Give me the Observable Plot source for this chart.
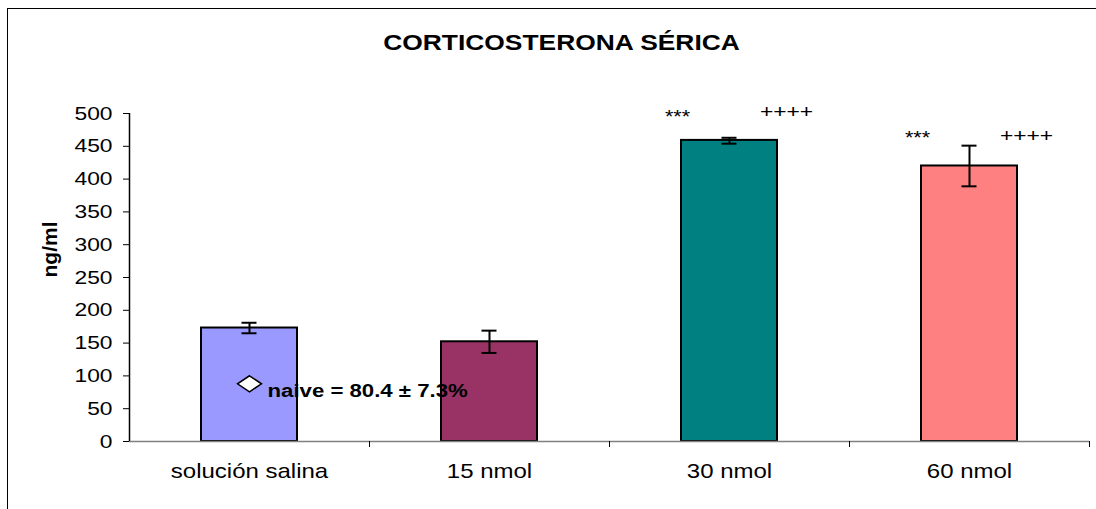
<!DOCTYPE html>
<html>
<head>
<meta charset="utf-8">
<script src="https://cdn.jsdelivr.net/npm/d3@7"></script>
<script src="https://cdn.jsdelivr.net/npm/@observablehq/plot@0.6"></script>
<style>
  html, body { margin: 0; padding: 0; background: #fff; }
  #wrap { position: relative; width: 1096px; height: 509px; overflow: hidden; }
  #frame { position: absolute; left: 7px; top: 8px; width: 1200px; height: 600px; border-left: 1.5px solid #000; border-top: 1.5px solid #000; pointer-events: none; }
  svg { font-family: "Liberation Sans", Arial, sans-serif; }
</style>
</head>
<body>
<div id="wrap"><div id="frame"></div></div>
<script>
const categories = ["solución salina", "15 nmol", "30 nmol", "60 nmol"];
const means = [173, 152, 459, 420];
const errLow = [165, 135, 454, 389];
const errHigh = [181, 169, 463, 451];
const colors = ["#9999FF", "#993366", "#008080", "#FF8080"];
const yTicks = [0, 50, 100, 150, 200, 250, 300, 350, 400, 450, 500];
const title = "CORTICOSTERONA SÉRICA";
const yLabel = "ng/ml";
const stars = [{cat: "30 nmol", y: 494, t: "***"}, {cat: "60 nmol", y: 462, t: "***"}];
const pluses = [{cat: "30 nmol", y: 502, t: "++++"}, {cat: "60 nmol", y: 466, t: "++++"}];
const naive = [{cat: "solución salina", y: 88, t: "naive = 80.4 ± 7.3%"}];

const bars = categories.map((c, i) => ({cat: c, v: means[i], lo: errLow[i], hi: errHigh[i], color: colors[i]}));

const wideDiamond = {
  draw(ctx, size) {
    const w = 12, h = 8;
    ctx.moveTo(0, -h); ctx.lineTo(w, 0); ctx.lineTo(0, h); ctx.lineTo(-w, 0); ctx.closePath();
  }
};

const chart = Plot.plot({
  width: 1096,
  height: 509,
  marginLeft: 129,
  marginRight: 7,
  marginTop: 113,
  marginBottom: 68,
  style: {fontFamily: "'Liberation Sans', Arial, sans-serif", background: "transparent"},
  x: {domain: categories, paddingInner: 0.6, paddingOuter: 0.3, axis: null},
  y: {domain: [0, 500], axis: null},
  color: {type: "identity"},
  marks: [
    Plot.barY(bars, {x: "cat", y: "v", fill: "color", stroke: "#000", strokeWidth: 2}),
    Plot.ruleX(bars, {x: "cat", y1: "lo", y2: "hi", stroke: "#000", strokeWidth: 2}),
    Plot.tickY(bars, {x: "cat", y: "lo", stroke: "#000", strokeWidth: 2, insetLeft: 40.5, insetRight: 40.5}),
    Plot.tickY(bars, {x: "cat", y: "hi", stroke: "#000", strokeWidth: 2, insetLeft: 40.5, insetRight: 40.5}),
    Plot.ruleY([0], {stroke: "#808080", strokeWidth: 1.5}),
    Plot.ruleX(categories, {x: d => d, y1: 0, y2: 0, dx: 120, insetBottom: -6, stroke: "#000", strokeWidth: 1}),
    Plot.ruleX([0], {x: () => categories[0], y1: 0, y2: 500, dx: -120, stroke: "#000", strokeWidth: 1.5}),
    Plot.tickY(yTicks, {y: d => d, x: () => categories[0], dx: -123, insetLeft: 45, insetRight: 45, stroke: "#000", strokeWidth: 1}),
    Plot.axisY({ticks: yTicks, tickSize: 0, tickPadding: 17, tickFormat: d => String(d), fontSize: 19, fill: "#000", label: null}),
    Plot.axisX({tickSize: 0, tickPadding: 22, fontSize: 20, fill: "#000", label: null}),
    Plot.text([yLabel], {frameAnchor: "left", dx: -79, rotate: -90, fontSize: 21, fontWeight: "bold", fill: "#000", className: "nostretch"}),
    Plot.text([title], {frameAnchor: "top", dy: -79, dx: -48, fontSize: 22, fontWeight: "bold", fill: "#000"}),
    Plot.text(stars, {x: "cat", y: "y", text: "t", dx: -52, fontSize: 18, fill: "#000"}),
    Plot.text(pluses, {x: "cat", y: "y", text: "t", dx: 57, fontSize: 19, fill: "#000"}),
    Plot.dot(naive, {x: "cat", y: "y", symbol: wideDiamond, r: 5, fill: "#fff", stroke: "#000", strokeWidth: 1.5}),
    Plot.text(naive, {x: "cat", y: "y", text: "t", textAnchor: "start", dx: 18, dy: 7, fontSize: 18.5, fontWeight: "bold", fill: "#000"})
  ]
});
// widen glyphs horizontally to match the reference's stretched typography
chart.querySelectorAll("text").forEach(t => {
  if (t.closest(".nostretch")) return;
  const tr = t.getAttribute("transform") || "";
  t.setAttribute("transform", tr + " scale(1.2,1)");
});
chart.style.position = "absolute";
chart.style.left = "0";
chart.style.top = "0";
document.getElementById("wrap").appendChild(chart);
</script>
</body>
</html>
